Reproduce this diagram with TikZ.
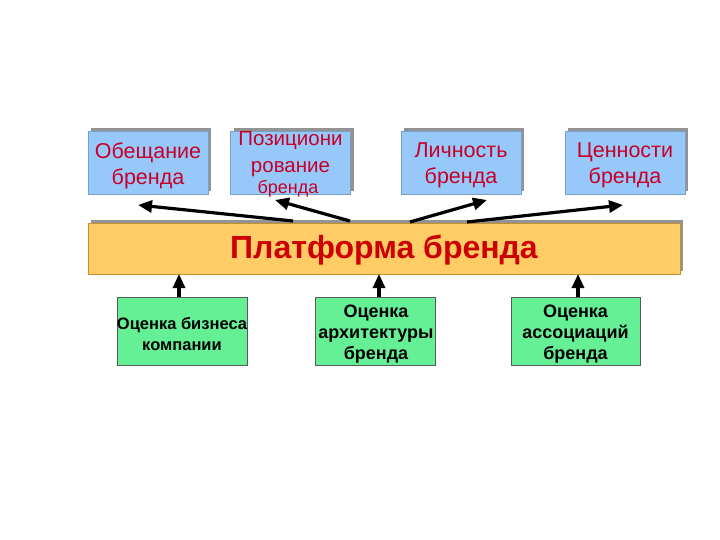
\documentclass[tikz,border=0pt]{standalone}
\usepackage{fontspec}
\setmainfont{Liberation Sans}
\usetikzlibrary{arrows.meta,shadows}
\definecolor{bluebox}{RGB}{150,200,250}
\definecolor{orangebar}{RGB}{255,204,102}
\definecolor{orangeedge}{RGB}{200,140,50}
\definecolor{greenbox}{RGB}{102,240,150}
\definecolor{redtext}{RGB}{200,0,40}
\definecolor{titlered}{RGB}{204,0,0}
\tikzset{
  topbox/.style={fill=bluebox, draw=bluebox!80!black, line width=0.4pt,
    minimum width=120pt, minimum height=63pt, inner sep=0pt,
    drop shadow={shadow xshift=3pt, shadow yshift=3pt, fill=gray!85, opacity=1}},
  toptext/.style={text=redtext, align=center, inner sep=0pt, font=\fontsize{21.5}{26}\selectfont},
  platbar/.style={fill=orangebar, draw=orangeedge, line width=0.6pt,
    minimum width=592pt, minimum height=51pt, inner sep=0pt,
    drop shadow={shadow xshift=3pt, shadow yshift=3pt, fill=gray!85, opacity=1}},
  evalbox/.style={fill=greenbox, draw=gray!70!black, line width=0.4pt,
    inner sep=0pt, minimum height=68pt},
  evaltext/.style={align=center, inner sep=0pt, font=\bfseries\fontsize{18}{21}\selectfont},
  bigarrow/.style={line width=3.2pt, -{Triangle[length=14pt,width=12pt]}}
}
\begin{document}
\begin{tikzpicture}[x=1pt,y=-1pt]
\useasboundingbox[fill=white] (0,0) rectangle (720,540);

% platform bar
\node[platbar] (bar) at (384,248.5) {};
\node[text=titlered, font=\bfseries\fontsize{32}{36}\selectfont] (title) at (384,250) {Платформа бренда};

% top boxes
\node[topbox] (b1) at (148,162.5) {};
\node[toptext] (b1t) at (148,166) {Обещание\\бренда};
\node[topbox] (b2) at (290.5,162.5) {};
\node[toptext, font=\fontsize{20.5}{27}\selectfont] (b2t) at (290.5,154) {Позициони\\рование};
\node[toptext, font=\fontsize{18}{20}\selectfont] (b2u) at (288,189) {бренда};
\node[topbox] (b3) at (461,163) {};
\node[toptext] (b3t) at (461,165) {Личность\\бренда};
\node[topbox] (b4) at (625,163) {};
\node[toptext] (b4t) at (625,165) {Ценности\\бренда};

% bottom boxes
\node[evalbox, minimum width=130pt] (g1) at (182,331) {};
\node[evaltext, font=\bfseries\fontsize{16.5}{21}\selectfont] (g1t) at (182,334) {Оценка бизнеса\\компании};
\node[evalbox, minimum width=120pt] (g2) at (375,331) {};
\node[evaltext] (g2t) at (376,334) {Оценка\\архитектуры\\бренда};
\node[evalbox, minimum width=129pt] (g3) at (575.5,331) {};
\node[evaltext] (g3t) at (575.5,334) {Оценка\\ассоциаций\\бренда};

% arrow anchors
\coordinate (s1) at (293,221);
\coordinate (e1) at (138,205);
\coordinate (s2) at (350,221);
\coordinate (e2) at (275,200);
\coordinate (s3) at (410,222);
\coordinate (e3) at (487,200);
\coordinate (s4) at (467,222);
\coordinate (e4) at (623,205);
\draw[bigarrow] (s1) -- (e1);
\draw[bigarrow] (s2) -- (e2);
\draw[bigarrow] (s3) -- (e3);
\draw[bigarrow] (s4) -- (e4);

\coordinate (u1) at (179,297);
\coordinate (v1) at (179,274);
\coordinate (u2) at (379,297);
\coordinate (v2) at (379,274);
\coordinate (u3) at (578,297);
\coordinate (v3) at (578,274);
\draw[bigarrow] (u1) -- (v1);
\draw[bigarrow] (u2) -- (v2);
\draw[bigarrow] (u3) -- (v3);
\end{tikzpicture}
\end{document}
